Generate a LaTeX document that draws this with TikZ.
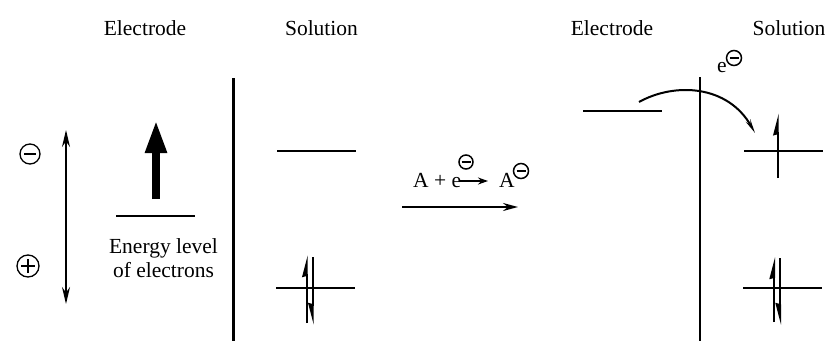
\documentclass[tikz,border=0pt]{standalone}
\usepackage{fontspec}
\setmainfont{Liberation Serif}
\usetikzlibrary{arrows.meta}
\begin{document}
\begin{tikzpicture}[x=1pt,y=-1pt,
  txt/.style={font=\fontsize{21.5}{24}\selectfont, inner sep=0pt},
  level/.style={line width=2.4pt},
  wall/.style={line width=2.6pt},
  harpL/.style={line width=2pt,-{Stealth[left,length=18pt,width=9pt,inset=1pt]}},
  harpR/.style={line width=2pt,-{Stealth[right,length=18pt,width=9pt,inset=1pt]}},
  bigcirc/.style={circle, draw, line width=1.3pt, minimum size=20pt, inner sep=0pt},
  smallcirc/.style={circle, draw, line width=1.5pt, minimum size=14pt, inner sep=0pt,
     path picture={\draw[line width=2pt] ([xshift=-4.5pt]path picture bounding box.center) -- ([xshift=4.5pt]path picture bounding box.center);}},
  minussym/.style={bigcirc, path picture={\draw[line width=1.4pt] ([xshift=-6pt]path picture bounding box.center) -- ([xshift=6pt]path picture bounding box.center);}},
  plussym/.style={bigcirc, minimum size=22pt, path picture={\draw[line width=1.4pt] ([xshift=-7pt]path picture bounding box.center) -- ([xshift=7pt]path picture bounding box.center) ([yshift=-7pt]path picture bounding box.center) -- ([yshift=7pt]path picture bounding box.center);}}
]
\useasboundingbox (0,0) rectangle (829,343);
\fill[white] (0,0) rectangle (829,343);

% headings
\node[txt, anchor=base] (h1) at (145,35) {Electrode};
\node[txt, anchor=base] (h2) at (321.5,35) {Solution};
\node[txt, anchor=base] (h3) at (612,35) {Electrode};
\node[txt, anchor=base] (h4) at (789,35) {Solution};

% left potential scale
\node[minussym] (mi) at (30,154) {};
\node[plussym] (pl) at (28,266) {};
\coordinate (sT) at (66,130);
\coordinate (sB) at (66,304);
\draw[line width=2pt, {Stealth[length=17pt,width=8pt]}-{Stealth[length=17pt,width=8pt]}] (sT) -- (sB);

% electrode energy level (left)
\coordinate (lvA) at (116,216);
\coordinate (lvB) at (195,216);
\draw[level] (lvA) -- (lvB);
\coordinate (thB) at (156,199);
\coordinate (thT) at (156,120);
\draw[line width=8pt, -{Triangle[length=33pt,width=20pt]}] (thB) -- (thT);
\node[txt, anchor=base] (en1) at (163.5,253) {Energy level};
\node[txt, anchor=base] (en2) at (163.5,277) {of electrons};

% left interface
\coordinate (w1T) at (233.5,78);
\coordinate (w1B) at (233.5,341);
\draw[wall] (w1T) -- (w1B);

% left solution levels
\coordinate (s1A) at (277,151);
\coordinate (s1B) at (356,151);
\draw[level] (s1A) -- (s1B);
\coordinate (s2A) at (276,288);
\coordinate (s2B) at (355,288);
\draw[level] (s2A) -- (s2B);
\coordinate (u1B) at (306.7,323);
\coordinate (u1T) at (306.7,255);
\draw[harpL] (u1B) -- (u1T);
\coordinate (d1T) at (312.7,257);
\coordinate (d1B) at (312.7,325);
\draw[harpR] (d1T) -- (d1B);

% reaction
\node[txt, anchor=base west] (r1) at (413,187) {A + e};
\node[smallcirc] (c1) at (466,162) {};
\node[txt, anchor=base west] (r2) at (499,187) {A};
\node[smallcirc, minimum size=15pt] (c2) at (521,171) {};
\draw[line width=2pt, -{Stealth[length=10pt,width=7pt]}] ([yshift=6pt,xshift=-2pt]r1.base east) -- ([yshift=6pt,xshift=-11pt]r2.base west);
\coordinate (raA) at (402,207);
\coordinate (raB) at (518,207);
\draw[line width=2pt, -{Stealth[length=15pt,width=8pt]}] (raA) -- (raB);

% right electrode level
\coordinate (r3A) at (583,110.7);
\coordinate (r3B) at (662,110.7);
\draw[level] (r3A) -- (r3B);

% right interface
\coordinate (w2T) at (700,77);
\coordinate (w2B) at (700,341);
\draw[wall] (w2T) -- (w2B);

% electron transfer
\coordinate (cvA) at (639,102);
\coordinate (cvB) at (755,133);
\draw[line width=2pt, -{Stealth[length=14pt,width=5pt]}] (cvA) .. controls (675,82) and (728,85) .. (cvB);
\node[txt, anchor=base west] (e2) at (717,72) {e};
\node[smallcirc, minimum size=15pt] (c3) at (734,58) {};

% right solution levels
\coordinate (s3A) at (744,150.7);
\coordinate (s3B) at (822.7,150.7);
\draw[level] (s3A) -- (s3B);
\coordinate (u2B) at (777.7,178);
\coordinate (u2T) at (777.7,113.3);
\draw[harpL] (u2B) -- (u2T);

\coordinate (s4A) at (743,288);
\coordinate (s4B) at (822,288);
\draw[level] (s4A) -- (s4B);
\coordinate (u3B) at (774,322);
\coordinate (u3T) at (774,257);
\draw[harpL] (u3B) -- (u3T);
\coordinate (d3T) at (780,258);
\coordinate (d3B) at (780,325);
\draw[harpR] (d3T) -- (d3B);
\end{tikzpicture}
\end{document}
